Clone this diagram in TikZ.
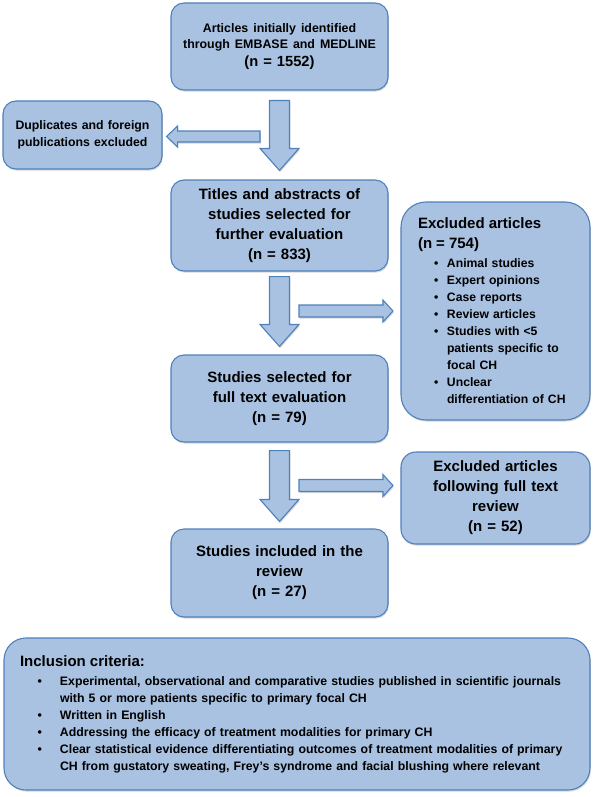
\documentclass[tikz,border=0pt]{standalone}
\usepackage{fontspec}
\setmainfont{Liberation Sans}
\usetikzlibrary{calc,shadows}
\definecolor{boxfill}{RGB}{169,194,225}
\definecolor{boxline}{RGB}{79,129,189}
\tikzset{
  softshadow/.style={drop shadow={shadow xshift=0.8pt, shadow yshift=-1.6pt, opacity=0.25, fill=black!60}},
  box/.style={draw=boxline, fill=boxfill, line width=1.1pt, rounded corners=13pt, softshadow,
    font=\bfseries\fontsize{15}{20}\selectfont, align=center, inner sep=0pt, text=black},
  arrowbox/.style={draw=boxline, fill=boxfill, line width=1.1pt, line join=miter, softshadow}
}
\newcommand\mydnarrow[2]{\draw[arrowbox] let \p1=(#1), \p2=(#2) in
  (\x1-10pt,\y1) -- (\x1+10pt,\y1) -- (\x1+10pt,\y2+22pt) -- (\x1+19.5pt,\y2+22pt) -- (\x1,\y2)
  -- (\x1-19.5pt,\y2+22pt) -- (\x1-10pt,\y2+22pt) -- cycle;}
\newcommand\myrtarrow[2]{\draw[arrowbox] let \p1=(#1), \p2=(#2) in
  (\x1,\y1+6pt) -- (\x2-10pt,\y1+6pt) -- (\x2-10pt,\y1+11pt) -- (\x2,\y1)
  -- (\x2-10pt,\y1-11pt) -- (\x2-10pt,\y1-6pt) -- (\x1,\y1-6pt) -- cycle;}
\newcommand\mylfarrow[2]{\draw[arrowbox] let \p1=(#1), \p2=(#2) in
  (\x1,\y1+5.5pt) -- (\x2+11pt,\y1+5.5pt) -- (\x2+11pt,\y1+10.5pt) -- (\x2,\y1)
  -- (\x2+11pt,\y1-10.5pt) -- (\x2+11pt,\y1-5.5pt) -- (\x1,\y1-5.5pt) -- cycle;}
\newcommand\exbul{\hspace*{16pt}\makebox[13pt][l]{\textbullet}}
\newcommand\excont{\hspace*{29pt}}
\newcommand\inbul{\hspace*{17.5pt}\makebox[22.5pt][l]{\textbullet}}
\newcommand\incont{\hspace*{40pt}}
\begin{document}
\begin{tikzpicture}[x=1pt,y=-1pt]
\useasboundingbox[fill=white] (0,0) rectangle (592,797);

\node[box, minimum width=217pt, minimum height=87pt, text width=210pt] (top) at (279.5,46.5)
  {{\fontsize{12.4}{16.5}\selectfont Articles initially identified\\through EMBASE and MEDLINE\par}
   {\fontsize{14.7}{18}\selectfont (n = 1552)\par}};

\node[box, minimum width=159pt, minimum height=68pt, text width=150pt,
      font=\bfseries\fontsize{12.3}{17}\selectfont] (dup) at (82.5,135)
  {Duplicates and foreign\\publications excluded};

\node[box, minimum width=217pt, minimum height=91pt, text width=210pt] (titles) at (279.5,225.5)
  {Titles and abstracts of\\studies selected for\\further evaluation\\(n = 833)};

\node[box, rounded corners=25pt, minimum width=189pt, minimum height=218pt, text width=155pt,
      align=left, font=\bfseries\fontsize{12.2}{17}\selectfont] (excl1) at (495.5,311)
  {{\fontsize{15}{20}\selectfont Excluded articles\\(n = 754)\par}\vspace{2pt}
   \exbul Animal studies\\
   \exbul Expert opinions\\
   \exbul Case reports\\
   \exbul Review articles\\
   \exbul Studies with <5\\
   \excont patients specific to\\
   \excont focal CH\\
   \exbul Unclear\\
   \excont differentiation of CH};

\node[box, minimum width=217pt, minimum height=87pt, text width=210pt] (sel) at (279.5,398.5)
  {Studies selected for\\full text evaluation\\(n = 79)};

\node[box, rounded corners=15pt, minimum width=189pt, minimum height=92pt, text width=180pt] (excl2) at (495.5,498)
  {Excluded articles\\following full text\\review\\(n = 52)};

\node[box, minimum width=217pt, minimum height=88pt, text width=210pt] (incl) at (279.5,573)
  {Studies included in the\\review\\(n = 27)};

\node[box, rounded corners=22pt, minimum width=586pt, minimum height=152pt, text width=554pt,
      align=left, font=\bfseries\fontsize{12.3}{17}\selectfont] (crit) at (297,714)
  {{\fontsize{15}{20}\selectfont Inclusion criteria:\par}\vspace{2pt}
   \inbul Experimental, observational and comparative studies published in scientific journals\\
   \incont with 5 or more patients specific to primary focal CH\\
   \inbul Written in English\\
   \inbul Addressing the efficacy of treatment modalities for primary CH\\
   \inbul Clear statistical evidence differentiating outcomes of treatment modalities of primary\\
   \incont CH from gustatory sweating, Frey’s syndrome and facial blushing where relevant};

% connectors
\coordinate (d1s) at ($(top.south)+(0,10)$);
\coordinate (d1e) at ($(titles.north)+(0,-9)$);
\mydnarrow{d1s}{d1e}
\coordinate (l1s) at (260,136.5);
\coordinate (l1e) at ($(dup.east)+(4,0)$);
\mylfarrow{l1s}{l1e}

\coordinate (d2s) at ($(titles.south)+(0,5)$);
\coordinate (d2e) at ($(sel.north)+(0,-8)$);
\mydnarrow{d2s}{d2e}
\coordinate (r2s) at (299,311);
\coordinate (r2e) at ($(excl1.west)+(-7.5,0)$);
\myrtarrow{r2s}{r2e}

\coordinate (d3s) at ($(sel.south)+(0,8)$);
\coordinate (d3e) at ($(incl.north)+(0,-7)$);
\mydnarrow{d3s}{d3e}
\coordinate (r3s) at (299,485.5);
\coordinate (r3e) at ($(excl2.west)+(-7.5,0)$);
\myrtarrow{r3s}{r3e}
\end{tikzpicture}
\end{document}
